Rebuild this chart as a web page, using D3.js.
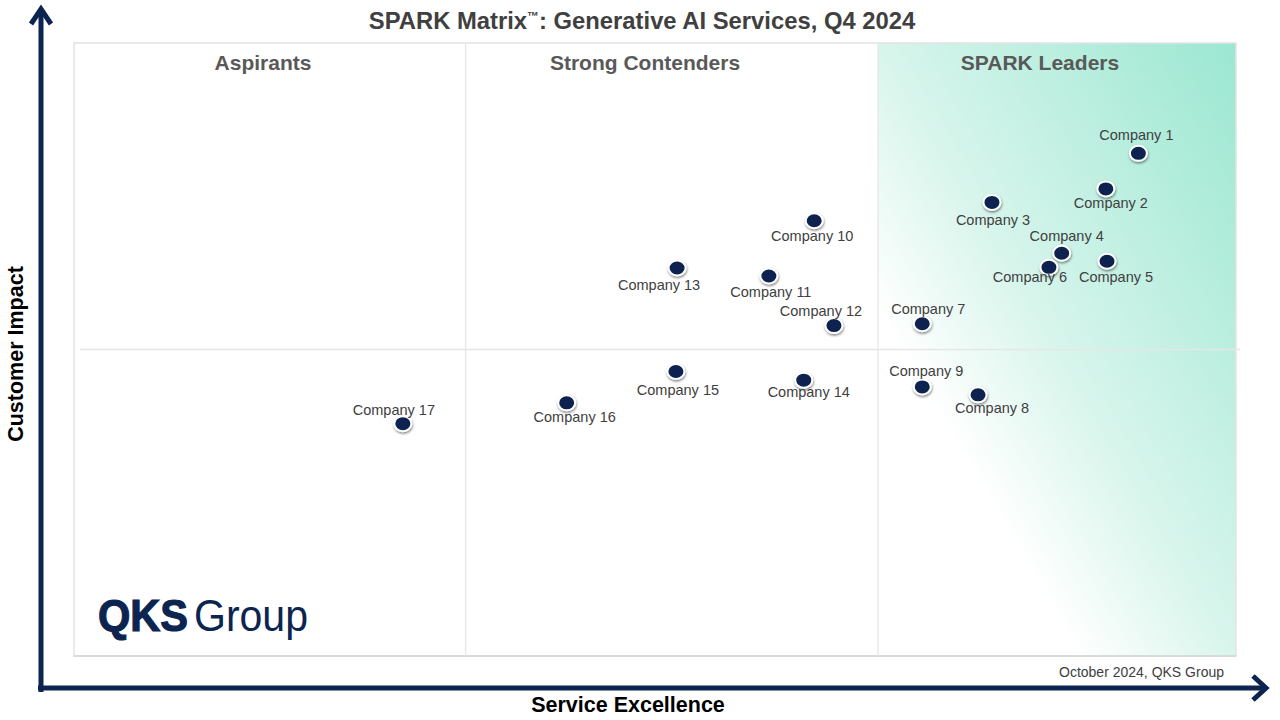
<!DOCTYPE html>
<html>
<head>
<meta charset="utf-8">
<script src="https://cdn.jsdelivr.net/npm/d3@7"></script>
<style>
  html, body { margin: 0; padding: 0; background: #fff; }
  svg { display: block; font-family: "Liberation Sans", Arial, sans-serif; }
</style>
</head>
<body>
<svg id="chart" width="1280" height="720"></svg>
<script>
// chart data
const companies = ["Company 1", "Company 2", "Company 3", "Company 4", "Company 5", "Company 6",
  "Company 7", "Company 8", "Company 9", "Company 10", "Company 11", "Company 12",
  "Company 13", "Company 14", "Company 15", "Company 16", "Company 17"];
const serviceExcellence = [91.6, 88.8, 79.0, 85.0, 88.9, 83.9, 73.0, 77.8, 73.0,
  63.7, 59.8, 65.4, 51.9, 62.8, 51.8, 42.4, 28.3];
const customerImpact = [82.0, 76.2, 74.0, 65.7, 64.4, 63.4, 54.2, 42.6, 43.9,
  71.0, 62.0, 53.9, 63.3, 45.0, 46.4, 41.3, 37.9];
const quadrantNames = ["Aspirants", "Strong Contenders", "SPARK Leaders"];
const xDividers = [33.7, 69.2];
const yDivider = 50;

// label placement next to each dot (dx, dy in px)
const labelOffsets = [[-2, -13], [5, 19], [1, 23], [5, -12], [9, 21], [-19, 15],
  [6, -10], [14, 18], [4, -11], [-2, 20], [2, 21], [-13, -10],
  [-18, 22], [5, 17], [2, 23], [8, 19], [-9, -9]];
// header centres (px), they are not centred in their cells
const headerX = [263, 645, 1040];

const svg = d3.select("#chart");
const box = { left: 74, right: 1236, top: 43, bottom: 656 };
const navy = "#0b2450";

const x = d3.scaleLinear().domain([0, 100]).range([box.left, box.right]);
const y = d3.scaleLinear().domain([0, 100]).range([box.bottom, box.top]);

const defs = svg.append("defs");
const grad = defs.append("linearGradient")
    .attr("id", "leaders")
    .attr("x1", "100%").attr("y1", "0%")
    .attr("x2", "0%").attr("y2", "100%");
grad.append("stop").attr("offset", "0%").attr("stop-color", "#9be7d1");
grad.append("stop").attr("offset", "50%").attr("stop-color", "#d8f5ec");
grad.append("stop").attr("offset", "72%").attr("stop-color", "#ffffff");

const shadow = defs.append("filter").attr("id", "shadow")
    .attr("x", "-50%").attr("y", "-50%").attr("width", "200%").attr("height", "200%");
shadow.append("feDropShadow")
    .attr("dx", 0.5).attr("dy", 1.5).attr("stdDeviation", 1)
    .attr("flood-color", "#000").attr("flood-opacity", 0.5);

// leaders background
svg.append("rect")
    .attr("x", x(xDividers[1]))
    .attr("y", box.top)
    .attr("width", box.right - x(xDividers[1]))
    .attr("height", box.bottom - box.top)
    .attr("fill", "url(#leaders)");

// frame
svg.append("rect")
    .attr("x", box.left).attr("y", box.top)
    .attr("width", box.right - box.left)
    .attr("height", box.bottom - box.top)
    .attr("fill", "none")
    .attr("stroke", "#e3e3e3")
    .attr("stroke-width", 1.5);
svg.append("line")
    .attr("x1", box.left).attr("x2", box.right)
    .attr("y1", box.bottom).attr("y2", box.bottom)
    .attr("stroke", "#d6dcdc").attr("stroke-width", 2);

// dividers
svg.selectAll(".vdiv")
  .data(xDividers)
  .join("line")
    .attr("x1", d => x(d)).attr("x2", d => x(d))
    .attr("y1", box.top).attr("y2", box.bottom)
    .attr("stroke", "#e6e6e6").attr("stroke-width", 1.3);
svg.append("line")
    .attr("x1", box.left + 6).attr("x2", box.right + 4)
    .attr("y1", y(yDivider)).attr("y2", y(yDivider))
    .attr("stroke", "#e6e6e6").attr("stroke-width", 1.3);

// quadrant headers
svg.selectAll(".qname")
  .data(quadrantNames)
  .join("text")
    .attr("x", (d, i) => headerX[i])
    .attr("y", 70)
    .attr("text-anchor", "middle")
    .attr("font-size", "21px")
    .attr("font-weight", "bold")
    .attr("fill", "#595959")
    .text(d => d);

// title
const title = svg.append("text")
    .attr("x", 642).attr("y", 29)
    .attr("text-anchor", "middle")
    .attr("font-size", "23.8px")
    .attr("font-weight", "bold")
    .attr("fill", "#404040");
title.append("tspan").text("SPARK Matrix");
title.append("tspan").attr("font-size", "12px").attr("dy", -9).text("™");
title.append("tspan").attr("dy", 9).text(": Generative AI Services, Q4 2024");

// axes arrows
svg.append("line")
    .attr("x1", 41).attr("x2", 41).attr("y1", 692).attr("y2", 10)
    .attr("stroke", navy).attr("stroke-width", 5);
svg.append("path")
    .attr("d", "M31,24 L41,9 L51,24")
    .attr("fill", "none").attr("stroke", navy)
    .attr("stroke-width", 5).attr("stroke-linejoin", "miter");
svg.append("line")
    .attr("x1", 38).attr("x2", 1264).attr("y1", 688).attr("y2", 688)
    .attr("stroke", navy).attr("stroke-width", 5);
svg.append("path")
    .attr("d", "M1253,676 L1266,688 L1253,700")
    .attr("fill", "none").attr("stroke", navy)
    .attr("stroke-width", 5).attr("stroke-linejoin", "miter");

// axis titles
svg.append("text")
    .attr("transform", "translate(23,354) rotate(-90)")
    .attr("text-anchor", "middle")
    .attr("font-size", "21.5px")
    .attr("font-weight", "bold")
    .attr("fill", "#000")
    .text("Customer Impact");
svg.append("text")
    .attr("x", 628).attr("y", 712)
    .attr("text-anchor", "middle")
    .attr("font-size", "21.5px")
    .attr("font-weight", "bold")
    .attr("fill", "#000")
    .text("Service Excellence");

svg.append("text")
    .attr("x", 1224).attr("y", 677)
    .attr("text-anchor", "end")
    .attr("font-size", "14px")
    .attr("fill", "#404040")
    .text("October 2024, QKS Group");

// logo
const logo = svg.append("text")
    .attr("x", 98).attr("y", 631)
    .attr("font-size", "44px")
    .attr("fill", navy);
logo.append("tspan")
    .attr("font-weight", "bold")
    .attr("stroke", navy)
    .attr("stroke-width", 1.2)
    .attr("textLength", 90)
    .attr("lengthAdjust", "spacingAndGlyphs")
    .text("QKS");
logo.append("tspan")
    .attr("dx", 6)
    .attr("textLength", 114)
    .attr("lengthAdjust", "spacingAndGlyphs")
    .text("Group");

// companies
const pts = companies.map((name, i) => ({
  name, sx: serviceExcellence[i], ci: customerImpact[i], off: labelOffsets[i]
}));

svg.selectAll(".dot")
  .data(pts)
  .join("ellipse")
    .attr("cx", d => x(d.sx))
    .attr("cy", d => y(d.ci))
    .attr("rx", 8.5).attr("ry", 7.5)
    .attr("fill", navy)
    .attr("stroke", "#fff")
    .attr("stroke-width", 2)
    .attr("filter", "url(#shadow)");

svg.selectAll(".lbl")
  .data(pts)
  .join("text")
    .attr("x", d => x(d.sx) + d.off[0])
    .attr("y", d => y(d.ci) + d.off[1])
    .attr("text-anchor", "middle")
    .attr("font-size", "14.5px")
    .attr("fill", "#404040")
    .text(d => d.name);
</script>
</body>
</html>
